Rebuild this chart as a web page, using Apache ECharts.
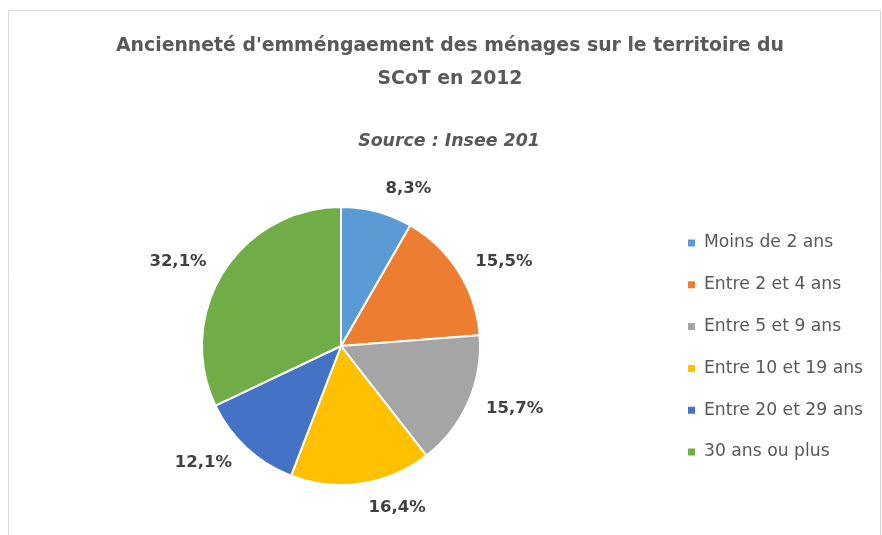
<!DOCTYPE html>
<html>
<head>
<meta charset="utf-8">
<script src="https://cdn.jsdelivr.net/npm/echarts@6/dist/echarts.min.js"></script>
<style>html,body{margin:0;padding:0;background:#fff}#c{width:882px;height:535px}</style>
</head>
<body>
<div id="c"></div>
<script>
const categories = ["Moins de 2 ans", "Entre 2 et 4 ans", "Entre 5 et 9 ans", "Entre 10 et 19 ans", "Entre 20 et 29 ans", "30 ans ou plus"];
const values = [8.3, 15.5, 15.7, 16.4, 12.1, 32.1];
const colors = ["#5B9BD5", "#ED7D31", "#A5A5A5", "#FFC000", "#4472C4", "#70AD47"];

const pieCenter = [341, 346];
const chart = echarts.init(document.getElementById('c'), null, {renderer: 'canvas'});
const font = '"DejaVu Sans", sans-serif';
chart.setOption({
  animation: false,
  graphic: [{
    type: 'rect', shape: {x: 8.5, y: 10.5, width: 872, height: 540},
    style: {fill: 'none', stroke: '#d9d9d9', lineWidth: 1}, silent: true
  }],
  title: [{
    text: "Ancienneté d'emméngaement des ménages sur le territoire du\nSCoT en 2012",
    left: 445, top: 25, textAlign: 'center',
    textStyle: {fontFamily: font, fontSize: 18.85, fontWeight: 'bold', color: '#595959', lineHeight: 33}
  }, {
    text: 'Source : Insee 201',
    left: 444, top: 127, textAlign: 'center',
    textStyle: {fontFamily: font, fontSize: 17.4, fontStyle: 'italic', fontWeight: 'bold', color: '#595959', lineHeight: 18}
  }],
  legend: {
    orient: 'vertical', left: 686, top: 233, padding: 0,
    itemWidth: 9, itemHeight: 9, itemGap: 21.8, icon: 'rect',
    textStyle: {fontFamily: font, fontSize: 17.2, color: '#595959', lineHeight: 20, padding: [0, 0, 0, 3]},
    data: categories
  },
  series: [{
    type: 'pie', center: pieCenter, radius: 139, startAngle: 90, clockwise: true,
    itemStyle: {borderColor: '#fff', borderWidth: 2},
    label: {
      show: true, position: 'outside', fontFamily: font, fontSize: 16.5, fontWeight: 'bold', color: '#404040',
      formatter: p => p.value.toFixed(1).replace('.', ',') + '%'
    },
    labelLine: {show: false, length: 14, length2: 0},
    labelLayout: function (params) {
      const r = params.labelRect;
      const cx = r.x + r.width / 2, cy = r.y + r.height / 2;
      const dx = cx - pieCenter[0], dy = cy - pieCenter[1];
      const d = Math.sqrt(dx * dx + dy * dy) || 1;
      const uy = dy / d;
      return {dy: uy * Math.abs(uy) * 12};
    },
    data: categories.map((n, i) => ({name: n, value: values[i], itemStyle: {color: colors[i]}}))
  }]
});
</script>
</body>
</html>
